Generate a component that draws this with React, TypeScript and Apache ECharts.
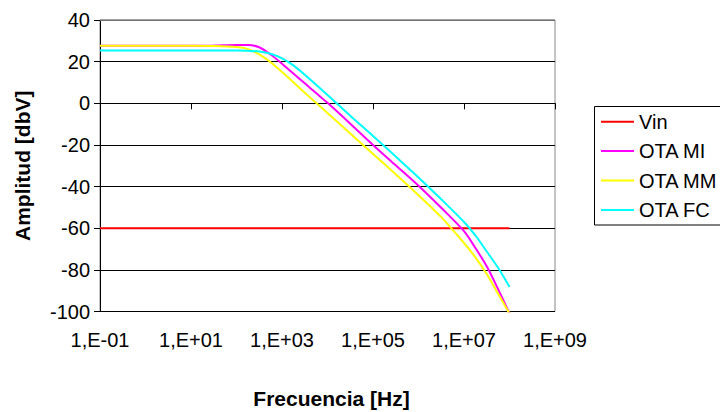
import React, { useEffect, useRef } from "react";
import * as echarts from "echarts";

// Frequencies (Hz) shared by the three OTA curves
const freqHz = [
  0.1, 1, 10, 31.6, 100, 178, 316, 562, 1000, 1778, 3162, 1e4, 3.16e4, 1e5,
  3.16e5, 1e6, 3.16e6, 1e7, 1.78e7, 3.16e7, 5.62e7, 1e8,
];
// Amplitudes (dBV)
const otaMI = [
  27.6, 27.6, 27.6, 27.7, 28.0, 28.0, 26.9, 23.4, 19.0, 14.3, 9.6, 0.2, -9.8,
  -20.0, -29.8, -39.6, -50.2, -61.4, -69.5, -78.3, -89.3, -101,
];
const otaMM = [
  27.6, 27.6, 27.6, 27.5, 27.0, 26.0, 23.5, 19.7, 15.0, 10.1, 5.1, -4.7, -14.5,
  -24.3, -34.1, -44.2, -54.7, -67.1, -74.0, -82.0, -91.5, -101,
];
const otaFC = [
  25.4, 25.4, 25.4, 25.4, 25.3, 25.2, 24.9, 23.8, 21.6, 18.2, 13.7, 4.0, -6.0,
  -15.7, -25.6, -35.6, -46.1, -57.0, -63.4, -71.2, -79.0, -88.2,
];
const vinHz = [0.1, 1e8];
const vinVals = [-60, -60];

const seriesNames = ["Vin", "OTA MI", "OTA MM", "OTA FC"];
const seriesColors = ["#ff0000", "#ff00ff", "#ffff00", "#00ffff"];

const FONT = "'Liberation Sans', Arial, sans-serif";

// x coordinate: decades above 0.1 Hz
const toX = (f: number) => Math.log10(f / 0.1);
const pairs = (fs: number[], vs: number[]) => fs.map((f, i) => [toX(f), vs[i]]);

export default function App() {
  const ref = useRef<HTMLDivElement>(null);
  useEffect(() => {
    if (!ref.current) return;
    const chart = echarts.init(ref.current, undefined, { renderer: "svg" });
    const datas = [
      pairs(vinHz, vinVals),
      pairs(freqHz, otaMI),
      pairs(freqHz, otaMM),
      pairs(freqHz, otaFC),
    ];
    chart.setOption({
      animation: false,
      backgroundColor: "#ffffff",
      textStyle: { fontFamily: FONT },
      grid: {
        left: 100,
        right: 165,
        top: 20,
        bottom: 100.5,
        show: true,
        borderColor: "#888",
        borderWidth: 1,
        backgroundColor: "transparent",
      },
      legend: {
        orient: "vertical",
        left: 595,
        top: 106,
        data: seriesNames.map((n) => ({ name: n, icon: "rect" })),
        itemWidth: 33,
        itemHeight: 2,
        itemGap: 9.4,
        padding: [5.7, 0, 5, 6],
        borderWidth: 0,
        textStyle: { fontSize: 20, color: "#000", fontFamily: FONT, lineHeight: 20 },
      },
      xAxis: {
        type: "value",
        min: 0,
        max: 10,
        interval: 2,
        axisLine: { show: true, lineStyle: { color: "#000", width: 1 } },
        axisTick: { show: true, length: 6, lineStyle: { color: "#000" } },
        splitLine: { show: false },
        axisLabel: {
          fontSize: 20,
          color: "#000",
          fontFamily: FONT,
          margin: 18,
          formatter: (v: number) => {
            const e = Math.round(v - 1);
            return `1,E${e < 0 ? "-" : "+"}${String(Math.abs(e)).padStart(2, "0")}`;
          },
        },
      },
      yAxis: {
        type: "value",
        min: -100,
        max: 40,
        interval: 20,
        axisLine: { show: true, lineStyle: { color: "#000", width: 1 } },
        axisTick: { show: true, length: 6, lineStyle: { color: "#000" } },
        splitLine: { show: true, lineStyle: { color: "#000", width: 1 } },
        axisLabel: { fontSize: 20, color: "#000", fontFamily: FONT, margin: 10 },
      },
      series: seriesNames.map((name, i) => ({
        name,
        type: "line",
        data: datas[i],
        showSymbol: false,
        symbol: "none",
        smooth: i === 0 ? false : 0.3,
        clip: true,
        color: seriesColors[i],
        lineStyle: { color: seriesColors[i], width: 2 },
      })),
    });
    const pL = chart.convertToPixel({ gridIndex: 0 }, [0, 40]) as number[];
    const pR = chart.convertToPixel({ gridIndex: 0 }, [10, 40]) as number[];
    const pB = chart.convertToPixel({ gridIndex: 0 }, [0, -100]) as number[];
    const midX = (pL[0] + pR[0]) / 2;
    const midY = (pL[1] + pB[1]) / 2;
    chart.setOption({
      graphic: [
        {
          type: "rect",
          z: -1,
          shape: { x: 594.5, y: 106.5, width: 160, height: 118.5 },
          style: { fill: "#fff", stroke: "#000", lineWidth: 1 },
        },
        {
          type: "line",
          z: 100,
          shape: { x1: pL[0], y1: pL[1], x2: pR[0], y2: pR[1] },
          style: { stroke: "#999", lineWidth: 1.5 },
        },
        {
          type: "text",
          x: midX + 4,
          y: 398,
          style: {
            text: "Frecuencia [Hz]",
            fontSize: 21,
            fontWeight: "bold",
            fontFamily: FONT,
            fill: "#000",
            align: "center",
            verticalAlign: "middle",
          },
        },
        {
          type: "text",
          x: 22,
          y: midY,
          rotation: Math.PI / 2,
          style: {
            text: "Amplitud [dbV]",
            fontSize: 21,
            fontWeight: "bold",
            fontFamily: FONT,
            fill: "#000",
            align: "center",
            verticalAlign: "middle",
          },
        },
      ],
    });
    return () => chart.dispose();
  }, []);
  return <div ref={ref} style={{ width: 720, height: 412, position: "absolute", left: 0, top: 0 }} />;
}
